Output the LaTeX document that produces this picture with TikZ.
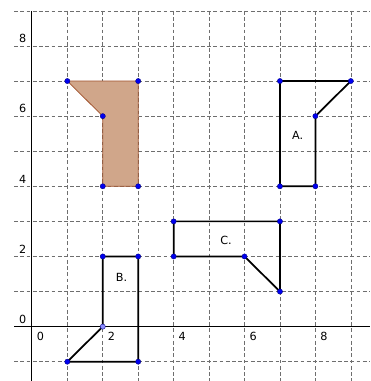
\documentclass[tikz,border=0pt]{standalone}
\usepackage{fontspec}
\setmainfont{DejaVu Sans}
\usepackage{tikz}

\definecolor{gridgray}{RGB}{110,110,110}
\definecolor{shadefill}{RGB}{208,166,138}
\definecolor{shadeedge}{RGB}{160,82,45}
\definecolor{dotblue}{RGB}{0,0,240}

\begin{document}
\begin{tikzpicture}[x=1cm, y=0.99cm, every node/.style={font=\fontsize{9}{10}\selectfont},
  gridline/.style={gridgray, dash pattern=on 3pt off 2pt, line width=0.5pt},
  figline/.style={black, line width=1.4pt, line join=miter},
  pt/.style={circle, fill=dotblue, draw=blue!50!black, line width=0.3pt, inner sep=0pt, minimum size=4.2pt},
  ptlight/.style={pt, fill=blue!45!white}]
\useasboundingbox (-0.9,-1.55) rectangle (9.55,9.31);
\fill[white] (-0.9,-1.55) rectangle (9.55,9.31);
% grid
\foreach \x in {1,...,9}
  \draw[gridline] (\x,9) -- (\x,-1.55);
\foreach \y in {-1,1,2,...,9}
  \draw[gridline] (-0.5,\y) -- (9.55,\y);
% axes
\draw[line width=0.8pt] (-0.5,0) -- (9.55,0);
\draw[line width=0.8pt] (0,9) -- (0,-1.55);
\foreach \v in {0,2,...,8} {
  \node (xl\v) [anchor=north west, inner sep=1pt] at (0.1+\v,-0.12) {\v};
}
\foreach \v in {0,2,...,8} {
  \node (yl\v) [anchor=south east, inner sep=1pt] at (-0.12,\v+0.05) {\v};
}
% shaded figure
\coordinate (s1) at (1,7);
\coordinate (s2) at (3,7);
\coordinate (s3) at (3,4);
\coordinate (s4) at (2,4);
\coordinate (s5) at (2,6);
\filldraw[fill=shadefill, draw=shadeedge, line width=0.6pt] (s1) -- (s2) -- (s3) -- (s4) -- (s5) -- cycle;
% figure A
\coordinate (a1) at (7,7);
\coordinate (a2) at (9,7);
\coordinate (a3) at (8,6);
\coordinate (a4) at (8,4);
\coordinate (a5) at (7,4);
\draw[figline] (a1) -- (a2) -- (a3) -- (a4) -- (a5) -- cycle;
\node (A) at (7.5,5.46) {A.};
% figure B
\coordinate (b1) at (2,2);
\coordinate (b2) at (3,2);
\coordinate (b3) at (3,-1);
\coordinate (b4) at (1,-1);
\coordinate (b5) at (2,0);
\draw[figline] (b1) -- (b2) -- (b3) -- (b4) -- (b5) -- cycle;
\node (B) at (2.53,1.39) {B.};
% figure C
\coordinate (c1) at (4,3);
\coordinate (c2) at (7,3);
\coordinate (c3) at (7,1);
\coordinate (c4) at (6,2);
\coordinate (c5) at (4,2);
\draw[figline] (c1) -- (c2) -- (c3) -- (c4) -- (c5) -- cycle;
\node (C) at (5.48,2.47) {C.};
% points
\foreach \p in {s1,s2,s3,s4,s5,a1,a2,a3,a4,a5,b1,b2,b3,b4,c1,c2,c3,c4,c5}
  \node[pt] at (\p) {};
\node[ptlight] at (b5) {};
\end{tikzpicture}
\end{document}
